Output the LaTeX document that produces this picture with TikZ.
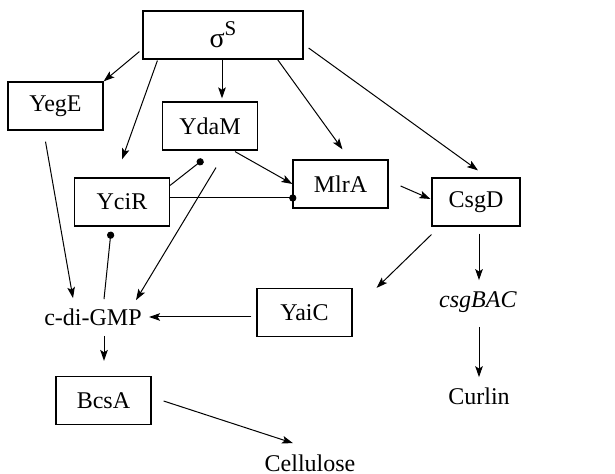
\documentclass[tikz,border=0pt]{standalone}
\usepackage{fontspec}
\setmainfont{Liberation Serif}
\usetikzlibrary{arrows.meta}
\tikzstyle{ProtNode}=[rectangle, draw=black, line width=0.6pt, inner sep=0pt, minimum width=47.5pt, minimum height=24pt]
\tikzstyle{TextNode}=[inner sep=0pt]
\tikzstyle{ActEdge}=[->, line width=0.5pt]
\tikzstyle{InhEdge}=[-{Circle[length=3.6pt]}, line width=0.5pt]
\tikzset{>={Stealth[length=5.5pt,width=3.8pt,inset=1.2pt]}}

\begin{document}
\begin{tikzpicture}[x=0.5pt, y=-0.5pt, font=\fontsize{12}{14}\selectfont]
\useasboundingbox (0,0) rectangle (615,474);
\node[ProtNode, minimum width=80pt](Sigma) at (223,35) {{\fontsize{14}{16}\selectfont σ}\raisebox{6pt}{\fontsize{10.5}{12}\selectfont S}};
\node[ProtNode](YegE) at (55.5,106) {YegE};
\node[ProtNode](YdaM) at (210,126) {YdaM};
\node[ProtNode](MlrA) at (340.5,184) {MlrA};
\node[ProtNode](YciR) at (122,202) {YciR};
\node[ProtNode, minimum width=44pt](CsgD) at (476,202) {CsgD};
\node[TextNode](CdiGMP) at (93,317) {c-di-GMP};
\node[ProtNode](YaiC) at (304.5,312.5) {YaiC};
\node[TextNode](CsgBAC) at (478,302) {\textit{csgBAC}};
\node[ProtNode](BcsA) at (103.5,400.5) {BcsA};
\node[TextNode](Curlin) at (479,396) {Curlin};
\node[TextNode](Cellulose) at (310,463) {Cellulose};

\draw[ActEdge]([shift={(-3,-8)}]Sigma.south west) -- (YegE.north east);
\draw[ActEdge]([shift={(15,1)}]Sigma.south west) -- ([shift={(0,-18)}]YciR.north);
\draw[ActEdge]([shift={(-1,0)}]Sigma.south) -- ([shift={(12,-3)}]YdaM.north);
\draw[ActEdge]([shift={(-26,0)}]Sigma.south east) -- ([shift={(2,-10)}]MlrA.north);
\draw[ActEdge]([shift={(5,13)}]Sigma.east) -- ([shift={(2,-7)}]CsgD.north);
\draw[ActEdge]([shift={(-10,11)}]YegE.south) -- ([shift={(-20,-10)}]CdiGMP.north);
\draw[InhEdge]([shift={(11,-9)}]CdiGMP.north) -- ([shift={(-11,5)}]YciR.south);
\draw[ActEdge]([shift={(6,17)}]YdaM.south) -- ([shift={(43,-8)}]CdiGMP.north);
\draw[InhEdge]([shift={(0,8)}]YciR.north east) -- ([shift={(-7,9)}]YdaM.south);
\draw[InhEdge]([shift={(0,-4)}]YciR.east) -- ([shift={(4,14)}]MlrA.west);
\draw[ActEdge]([shift={(25,1)}]YdaM.south) -- (MlrA.west);
\draw[ActEdge]([shift={(12,2)}]MlrA.east) -- ([shift={(-1,-3)}]CsgD.west);
\draw[ActEdge]([shift={(0,8)}]CsgD.south west) -- ([shift={(24,0)}]YaiC.north east);
\draw[ActEdge]([shift={(3,7)}]CsgD.south) -- ([shift={(1,-11)}]CsgBAC.north);
\draw[ActEdge]([shift={(-5,4.5)}]YaiC.west) -- ([shift={(7,0)}]CdiGMP.east);
\draw[ActEdge]([shift={(11,10)}]CdiGMP.south) -- ([shift={(0.5,-15)}]BcsA.north);
\draw[ActEdge]([shift={(1,14)}]CsgBAC.south) -- ([shift={(0,-10)}]Curlin.north);
\draw[ActEdge]([shift={(12,0.5)}]BcsA.east) -- ([shift={(-17,-11)}]Cellulose.north);
\end{tikzpicture}
\end{document}
